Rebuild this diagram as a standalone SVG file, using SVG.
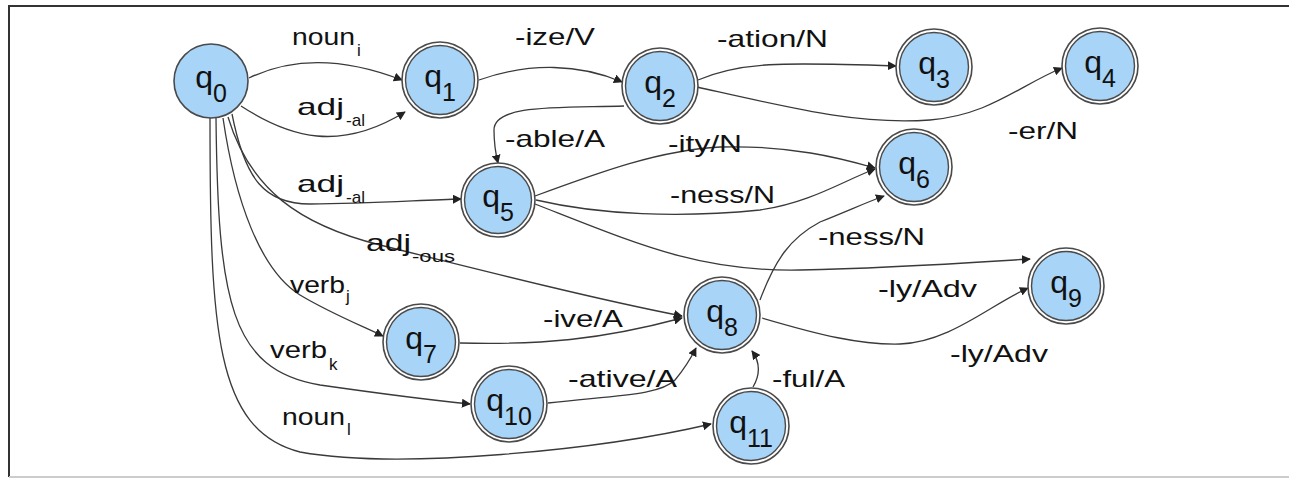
<svg xmlns="http://www.w3.org/2000/svg" width="1289" height="479" viewBox="0 0 1289 479">
<style>
.edge{fill:none;stroke:#3a3a3a;stroke-width:1.3}
.outer{fill:#ffffff;stroke:#4a4a4a;stroke-width:1.6}
.inner{fill:#a8d4f8;stroke:#4a4a4a;stroke-width:1.4}
.single{fill:#a8d4f8;stroke:#4a4a4a;stroke-width:1.6}
.nl{font-family:"Liberation Sans",Arial,sans-serif;font-size:32px;fill:#111;text-anchor:middle}
.sub{font-size:25px}
.el{font-family:"Liberation Sans",Arial,sans-serif;font-size:24px;fill:#111}
.es{font-family:"Liberation Sans",Arial,sans-serif;font-size:17px;fill:#111}
</style>
<defs>
<marker id="arr" viewBox="0 0 10 10" refX="9" refY="5" markerWidth="9" markerHeight="9" markerUnits="userSpaceOnUse" orient="auto">
<path d="M0,0 L10,5 L0,10 z" fill="#222"/>
</marker>
</defs>
<rect width="1289" height="479" fill="#ffffff"/>
<g id="frame">
<line x1="8" y1="6" x2="1289" y2="6" stroke="#333" stroke-width="2"/>
<line x1="9" y1="5" x2="9" y2="477" stroke="#333" stroke-width="2"/>
<line x1="9" y1="477" x2="1289" y2="477" stroke="#cccccc" stroke-width="2"/>
</g>
<g id="connectors">
<path class="edge" marker-end="url(#arr)" d="M249,78 C 290,58 340,56 402,80"/>
<path class="edge" marker-end="url(#arr)" d="M241,106 C 290,138 340,152 405,112"/>
<path class="edge" marker-end="url(#arr)" d="M479,80 C 530,62 580,64 622,82"/>
<path class="edge" marker-end="url(#arr)" d="M698,80 C 740,62 780,62 896,66"/>
<path class="edge" marker-end="url(#arr)" d="M697,87 C 800,110 860,125 930,120 C 990,115 1020,85 1062,68"/>
<path class="edge" marker-end="url(#arr)" d="M624,106 C 560,108 494,104 494,130 C 494,145 496,155 498,163"/>
<path class="edge" marker-end="url(#arr)" d="M535,196 C 600,172 660,150 720,147 C 790,145 840,158 875,168"/>
<path class="edge" marker-end="url(#arr)" d="M536,200 C 600,215 680,218 760,210 C 810,203 845,180 875,169"/>
<path class="edge" marker-end="url(#arr)" d="M535,204 C 640,245 700,272 800,270 C 900,268 980,262 1030,259"/>
<path class="edge" marker-end="url(#arr)" d="M232,114 C 245,180 265,204 310,204 C 370,204 420,200 461,199"/>
<path class="edge" marker-end="url(#arr)" d="M228,117 C 250,190 300,225 380,245 C 500,275 600,300 682,316"/>
<path class="edge" marker-end="url(#arr)" d="M223,118 C 235,200 260,270 300,295 C 330,313 360,325 383,336"/>
<path class="edge" marker-end="url(#arr)" d="M216,118 C 218,300 230,370 320,385 C 390,395 430,400 470,404"/>
<path class="edge" marker-end="url(#arr)" d="M210,118 C 210,330 215,430 300,452 C 400,470 600,450 711,424"/>
<path class="edge" marker-end="url(#arr)" d="M460,343 C 540,345 600,340 682,318"/>
<path class="edge" marker-end="url(#arr)" d="M548,403 C 620,395 660,395 675,380 C 685,368 690,360 696,348"/>
<path class="edge" marker-end="url(#arr)" d="M753,387 C 760,375 760,362 752,351"/>
<path class="edge" marker-end="url(#arr)" d="M760,300 C 775,260 790,238 820,222 C 850,210 865,203 884,196"/>
<path class="edge" marker-end="url(#arr)" d="M762,318 C 820,335 860,345 900,344 C 950,342 990,305 1028,288"/>
</g>
<g id="edge-labels">
<text class="el" x="292" y="45" textLength="63" lengthAdjust="spacingAndGlyphs">noun</text><text class="es" x="357" y="56">i</text>
<text class="el" x="297" y="115" textLength="47" lengthAdjust="spacingAndGlyphs">adj</text><text class="es" x="346" y="126" textLength="19" lengthAdjust="spacingAndGlyphs">-al</text>
<text class="el" x="297" y="192" textLength="47" lengthAdjust="spacingAndGlyphs">adj</text><text class="es" x="346" y="203" textLength="19" lengthAdjust="spacingAndGlyphs">-al</text>
<text class="el" x="366" y="251" textLength="45" lengthAdjust="spacingAndGlyphs">adj</text><text class="es" x="412" y="262" textLength="43" lengthAdjust="spacingAndGlyphs">-ous</text>
<text class="el" x="290" y="293" textLength="55" lengthAdjust="spacingAndGlyphs">verb</text><text class="es" x="346" y="302">j</text>
<text class="el" x="270" y="358" textLength="57" lengthAdjust="spacingAndGlyphs">verb</text><text class="es" x="329" y="370">k</text>
<text class="el" x="282" y="425" textLength="63" lengthAdjust="spacingAndGlyphs">noun</text><text class="es" x="347" y="435">l</text>
<text class="el" x="515" y="45" textLength="80" lengthAdjust="spacingAndGlyphs">-ize/V</text>
<text class="el" x="717" y="47" textLength="111" lengthAdjust="spacingAndGlyphs">-ation/N</text>
<text class="el" x="1008" y="139" textLength="70" lengthAdjust="spacingAndGlyphs">-er/N</text>
<text class="el" x="505" y="147" textLength="100" lengthAdjust="spacingAndGlyphs">-able/A</text>
<text class="el" x="668" y="152" textLength="74" lengthAdjust="spacingAndGlyphs">-ity/N</text>
<text class="el" x="670" y="203" textLength="105" lengthAdjust="spacingAndGlyphs">-ness/N</text>
<text class="el" x="818" y="245" textLength="107" lengthAdjust="spacingAndGlyphs">-ness/N</text>
<text class="el" x="878" y="297" textLength="99" lengthAdjust="spacingAndGlyphs">-ly/Adv</text>
<text class="el" x="950" y="362" textLength="98" lengthAdjust="spacingAndGlyphs">-ly/Adv</text>
<text class="el" x="543" y="327" textLength="80" lengthAdjust="spacingAndGlyphs">-ive/A</text>
<text class="el" x="568" y="387" textLength="109" lengthAdjust="spacingAndGlyphs">-ative/A</text>
<text class="el" x="772" y="387" textLength="73" lengthAdjust="spacingAndGlyphs">-ful/A</text>
</g>
<g id="q0"><circle class="single" cx="211" cy="81" r="37"/><text class="nl" x="211" y="88">q<tspan class="sub" dy="14">0</tspan></text></g>
<g id="q1"><circle class="outer" cx="440" cy="80" r="38"/><circle class="inner" cx="440" cy="80" r="34.5"/><text class="nl" x="440" y="87">q<tspan class="sub" dy="14">1</tspan></text></g>
<g id="q2"><circle class="outer" cx="660" cy="86" r="38"/><circle class="inner" cx="660" cy="86" r="34.5"/><text class="nl" x="660" y="93">q<tspan class="sub" dy="14">2</tspan></text></g>
<g id="q3"><circle class="outer" cx="934" cy="67" r="38"/><circle class="inner" cx="934" cy="67" r="34.5"/><text class="nl" x="934" y="74">q<tspan class="sub" dy="14">3</tspan></text></g>
<g id="q4"><circle class="outer" cx="1100" cy="66" r="38"/><circle class="inner" cx="1100" cy="66" r="34.5"/><text class="nl" x="1100" y="73">q<tspan class="sub" dy="14">4</tspan></text></g>
<g id="q5"><circle class="outer" cx="498" cy="200" r="37"/><circle class="inner" cx="498" cy="200" r="33.5"/><text class="nl" x="498" y="207">q<tspan class="sub" dy="14">5</tspan></text></g>
<g id="q6"><circle class="outer" cx="914" cy="167" r="38"/><circle class="inner" cx="914" cy="167" r="34.5"/><text class="nl" x="914" y="174">q<tspan class="sub" dy="14">6</tspan></text></g>
<g id="q7"><circle class="outer" cx="421" cy="342" r="38"/><circle class="inner" cx="421" cy="342" r="34.5"/><text class="nl" x="421" y="349">q<tspan class="sub" dy="14">7</tspan></text></g>
<g id="q8"><circle class="outer" cx="722" cy="315" r="38"/><circle class="inner" cx="722" cy="315" r="34.5"/><text class="nl" x="722" y="322">q<tspan class="sub" dy="14">8</tspan></text></g>
<g id="q9"><circle class="outer" cx="1066" cy="286" r="38"/><circle class="inner" cx="1066" cy="286" r="34.5"/><text class="nl" x="1066" y="293">q<tspan class="sub" dy="14">9</tspan></text></g>
<g id="q10"><circle class="outer" cx="509" cy="404" r="38"/><circle class="inner" cx="509" cy="404" r="34.5"/><text class="nl" x="509" y="411">q<tspan class="sub" dy="14">10</tspan></text></g>
<g id="q11"><circle class="outer" cx="751" cy="426" r="38"/><circle class="inner" cx="751" cy="426" r="34.5"/><text class="nl" x="751" y="433">q<tspan class="sub" dy="14">11</tspan></text></g>
</svg>
